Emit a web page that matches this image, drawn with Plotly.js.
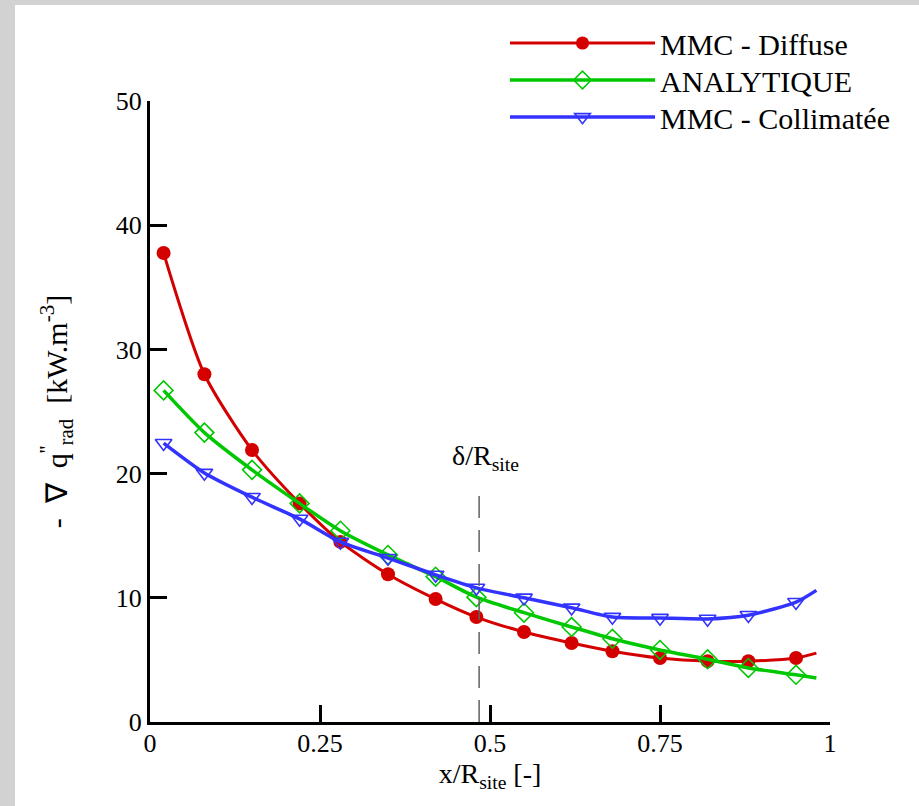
<!DOCTYPE html>
<html>
<head>
<meta charset="utf-8">
<script src="https://cdn.plot.ly/plotly-3.0.1.min.js"></script>
<style>html,body{margin:0;padding:0;background:#fff;}#chart{width:919px;height:806px;}</style>
</head>
<body>
<div id="chart"></div>
<script>
// x positions (x/R_site); last point is the line end without marker
const xPos = [0.02, 0.08, 0.15, 0.22, 0.28, 0.35, 0.42, 0.48, 0.55, 0.62, 0.68, 0.75, 0.82, 0.88, 0.95, 0.98];
const diffuse = [37.76, 28.0, 21.9, 17.6, 14.5, 11.9, 9.9, 8.45, 7.25, 6.36, 5.7, 5.15, 4.9, 4.9, 5.15, 5.55];
const analytique = [26.7, 23.3, 20.3, 17.6, 15.4, 13.45, 11.7, 10.05, 8.8, 7.65, 6.7, 5.8, 5.05, 4.35, 3.8, 3.55];
const collimatee = [22.45, 20.05, 18.1, 16.35, 14.5, 13.2, 11.85, 10.8, 10.0, 9.2, 8.45, 8.37, 8.3, 8.6, 9.65, 10.6];
const seriesNames = ['MMC - Diffuse', 'ANALYTIQUE', 'MMC - Collimatée'];
const xTicks = [0, 0.25, 0.5, 0.75, 1];
const xTickText = ['0', '0.25', '0.5', '0.75', '1'];
const yTicks = [0, 10, 20, 30, 40, 50];
const deltaX = 0.484;
const deltaTop = 18.5;

function sizes(n, s) { const a = new Array(n).fill(s); a[n - 1] = 0; return a; }

const font = "'Liberation Serif', 'Times New Roman', serif";
const traces = [
  {x: xPos, y: diffuse, name: seriesNames[0], mode: 'lines+markers', legend: 'legend',
   line: {color: '#d40000', width: 3, shape: 'spline', smoothing: 0.7},
   marker: {symbol: 'circle', color: '#d40000', opacity: 1, size: sizes(xPos.length, 14), line: {width: 0}}},
  {x: xPos, y: analytique, name: seriesNames[1], mode: 'lines+markers', legend: 'legend2',
   line: {color: '#00c800', width: 3.5, shape: 'spline', smoothing: 0.7},
   marker: {symbol: 'diamond-open', color: '#00c800', opacity: 1, size: sizes(xPos.length, 14.5), line: {width: 1.6, color: '#00c800'}}},
  {x: xPos, y: collimatee, name: seriesNames[2], mode: 'lines+markers', legend: 'legend3',
   line: {color: '#3333ff', width: 3.5, shape: 'spline', smoothing: 0.7},
   marker: {symbol: 'triangle-down-open', color: '#3333ff', opacity: 1, size: sizes(xPos.length, 14.5), line: {width: 1.6, color: '#3333ff'}}}
];

const W = 680, H = 621, L = 150, T = 101;
function px(p) { return (p - L) / W; }
function py(p) { return (T + H - p) / H; }

function leg(cy) {
  return {x: px(505), y: py(cy), xanchor: 'left', yanchor: 'middle', xref: 'paper', yref: 'paper',
          font: {family: font, size: 30, color: '#000'}, bgcolor: 'rgba(0,0,0,0)', itemwidth: 145, borderwidth: 0};
}

const layout = {
  width: 919, height: 806,
  margin: {l: 150, r: 89, t: 101, b: 84},
  paper_bgcolor: '#ffffff', plot_bgcolor: '#ffffff',
  font: {family: font, size: 26, color: '#000'},
  showlegend: true,
  legend: leg(43), legend2: leg(80), legend3: leg(117),
  xaxis: {range: [0, 1], tickvals: xTicks, ticktext: xTickText, ticks: 'inside', ticklen: 17, tickwidth: 3,
          tickcolor: '#000', showline: true, linecolor: '#000', linewidth: 3, showgrid: false, zeroline: false,
          ticklabelstandoff: -4,
          tickfont: {family: font, size: 26, color: '#000'},
          title: {text: 'x/R<sub>site</sub> [-]', font: {family: font, size: 28, color: '#000'}, standoff: 0}},
  yaxis: {range: [0, 50], tickvals: yTicks, ticks: 'inside', ticklen: 17, tickwidth: 3,
          tickcolor: '#000', showline: true, linecolor: '#000', linewidth: 3, showgrid: false, zeroline: false,
          tickfont: {family: font, size: 26, color: '#000'},
          title: {text: "-  ∇  q<sup>''</sup><sub>rad</sub>  [kW.m<sup>-3</sup>]", font: {family: font, size: 30, color: '#000'}, standoff: 40}},
  shapes: [
    {type: 'rect', xref: 'paper', yref: 'paper', x0: px(0), x1: px(15), y0: py(806), y1: py(0), fillcolor: '#d2d2d2', line: {width: 0}, layer: 'below'},
    {type: 'rect', xref: 'paper', yref: 'paper', x0: px(0), x1: px(919), y0: py(5), y1: py(0), fillcolor: '#d2d2d2', line: {width: 0}, layer: 'below'},
    {type: 'line', xref: 'x', yref: 'y', x0: deltaX, x1: deltaX, y0: 0, y1: deltaTop, line: {color: '#606060', width: 1.5, dash: '22px,12px'}}
  ],
  annotations: [
    {xref: 'x', yref: 'y', x: deltaX, y: 21.3, text: 'δ/R<sub>site</sub>', showarrow: false, xanchor: 'center', yanchor: 'middle', xshift: 6,
     font: {family: font, size: 28, color: '#000'}}
  ]
};

Plotly.newPlot('chart', traces, layout, {displayModeBar: false, staticPlot: true});
</script>
</body>
</html>
